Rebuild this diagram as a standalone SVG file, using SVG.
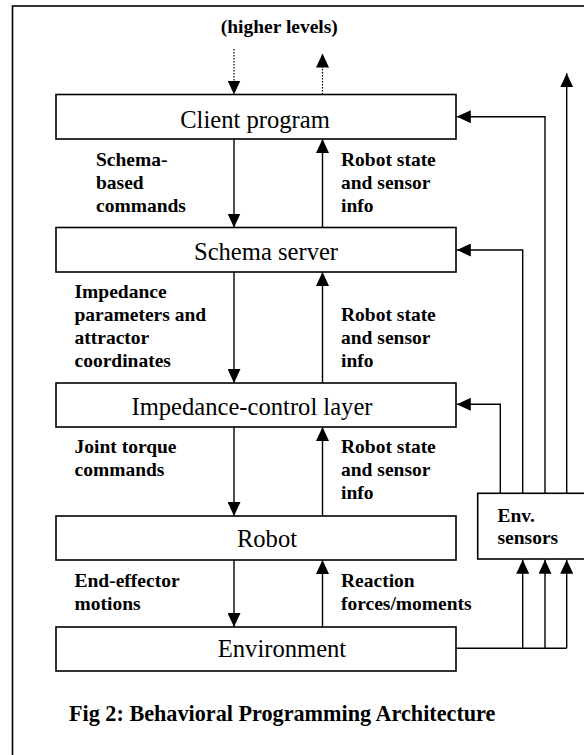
<svg xmlns="http://www.w3.org/2000/svg" width="584" height="755" viewBox="0 0 584 755">
<style>
  .box { fill: #fff; stroke: #000; stroke-width: 1.6; }
  .ttl { font-family: "Liberation Serif", "Times New Roman", serif; font-size: 24.6px; fill: #000; text-anchor: middle; }
  .lbl { font-family: "Liberation Serif", "Times New Roman", serif; font-size: 19.5px; font-weight: bold; fill: #000; }
  .cap { font-family: "Liberation Serif", "Times New Roman", serif; font-size: 22.2px; font-weight: bold; fill: #000; }
  .ln { fill: none; stroke: #000; stroke-width: 1.4; }
  .dot { fill: none; stroke: #000; stroke-width: 1.2; stroke-dasharray: 1.5 1.5; }
</style>
<defs>
  <marker id="ah" viewBox="0 0 14 13" refX="14" refY="6.5" markerWidth="14" markerHeight="13" markerUnits="userSpaceOnUse" orient="auto">
    <path d="M0,0 L14,6.5 L0,13 Z" fill="#000"/>
  </marker>
</defs>
<rect x="0" y="0" width="584" height="755" fill="#fff"/>
<rect id="frame" x="12.5" y="6" width="620" height="800" fill="none" stroke="#000" stroke-width="1.6"/>

<text class="lbl" x="279.3" y="33" text-anchor="middle">(higher levels)</text>

<g id="client">
  <rect class="box" x="56" y="94.5" width="400" height="44.5"/>
  <text class="ttl" x="255" y="127.7">Client program</text>
</g>
<g id="schema">
  <rect class="box" x="56" y="227.5" width="400" height="44.5"/>
  <text class="ttl" x="266" y="260">Schema server</text>
</g>
<g id="impedance">
  <rect class="box" x="56" y="383" width="400" height="44"/>
  <text class="ttl" x="252" y="415">Impedance-control layer</text>
</g>
<g id="robot">
  <rect class="box" x="56" y="516" width="400" height="44"/>
  <text class="ttl" x="267" y="547.3">Robot</text>
</g>
<g id="environment">
  <rect class="box" x="56" y="627" width="400" height="44"/>
  <text class="ttl" x="282" y="657.3">Environment</text>
</g>
<g id="sensors">
  <rect class="box" x="477.7" y="493.3" width="130" height="65.7"/>
  <text class="lbl" x="497.5" y="521.5">Env.</text>
  <text class="lbl" x="497.5" y="544">sensors</text>
</g>

<g id="labels">
  <text class="lbl" x="96" y="166">Schema-</text>
  <text class="lbl" x="96" y="189">based</text>
  <text class="lbl" x="96" y="212">commands</text>
  <text class="lbl" x="341" y="166">Robot state</text>
  <text class="lbl" x="341" y="189">and sensor</text>
  <text class="lbl" x="341" y="212">info</text>

  <text class="lbl" x="74.5" y="298">Impedance</text>
  <text class="lbl" x="74.5" y="321">parameters and</text>
  <text class="lbl" x="74.5" y="344">attractor</text>
  <text class="lbl" x="74.5" y="367">coordinates</text>
  <text class="lbl" x="341" y="321">Robot state</text>
  <text class="lbl" x="341" y="344">and sensor</text>
  <text class="lbl" x="341" y="367">info</text>

  <text class="lbl" x="74.5" y="453">Joint torque</text>
  <text class="lbl" x="74.5" y="476">commands</text>
  <text class="lbl" x="341" y="453">Robot state</text>
  <text class="lbl" x="341" y="476">and sensor</text>
  <text class="lbl" x="341" y="498.5">info</text>

  <text class="lbl" x="74.5" y="587">End-effector</text>
  <text class="lbl" x="74.5" y="609.5">motions</text>
  <text class="lbl" x="341" y="587">Reaction</text>
  <text class="lbl" x="341" y="609.5">forces/moments</text>
</g>

<text class="cap" x="69" y="721">Fig 2: Behavioral Programming Architecture</text>

<g id="connectors">
  <line class="dot" x1="234" y1="49" x2="234" y2="94.5" marker-end="url(#ah)"/>
  <line class="dot" x1="322.5" y1="94.5" x2="322.5" y2="53.5" marker-end="url(#ah)"/>

  <line class="ln" x1="234" y1="139" x2="234" y2="227.5" marker-end="url(#ah)"/>
  <line class="ln" x1="322.5" y1="227.5" x2="322.5" y2="139" marker-end="url(#ah)"/>
  <line class="ln" x1="234" y1="272" x2="234" y2="383" marker-end="url(#ah)"/>
  <line class="ln" x1="322.5" y1="383" x2="322.5" y2="272" marker-end="url(#ah)"/>
  <line class="ln" x1="234" y1="427" x2="234" y2="516" marker-end="url(#ah)"/>
  <line class="ln" x1="322.5" y1="516" x2="322.5" y2="427" marker-end="url(#ah)"/>
  <line class="ln" x1="234" y1="560" x2="234" y2="627" marker-end="url(#ah)"/>
  <line class="ln" x1="322.5" y1="627" x2="322.5" y2="560" marker-end="url(#ah)"/>

  <polyline class="ln" points="545,493.3 545,116.7 456.8,116.7" marker-end="url(#ah)"/>
  <polyline class="ln" points="522.7,493.3 522.7,250 456.8,250" marker-end="url(#ah)"/>
  <polyline class="ln" points="500.3,493.3 500.3,404.3 456.8,404.3" marker-end="url(#ah)"/>
  <line class="ln" x1="566.7" y1="493.3" x2="566.7" y2="73.3" marker-end="url(#ah)"/>

  <line class="ln" x1="456.8" y1="648.3" x2="566.7" y2="648.3"/>
  <line class="ln" x1="522.7" y1="648.3" x2="522.7" y2="559.8" marker-end="url(#ah)"/>
  <line class="ln" x1="545" y1="648.3" x2="545" y2="559.8" marker-end="url(#ah)"/>
  <line class="ln" x1="566.7" y1="648.3" x2="566.7" y2="559.8" marker-end="url(#ah)"/>
</g>
</svg>
